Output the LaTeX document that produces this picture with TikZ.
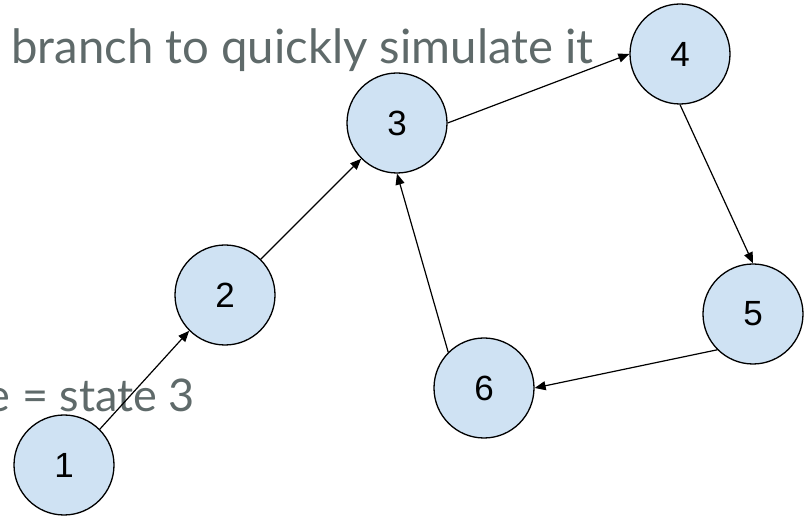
\documentclass[tikz,border=0pt]{standalone}
\usepackage{fontspec}
\setmainfont{Liberation Sans}
\newfontfamily\latofont{Lato}
\usetikzlibrary{arrows.meta}
\definecolor{nodefill}{HTML}{CFE2F3}
\definecolor{notegray}{RGB}{95,106,106}
\tikzset{
  state/.style={circle, draw=black, line width=1.3pt, fill=nodefill,
    minimum size=100pt, inner sep=0pt, font=\fontsize{35}{40}\selectfont},
  link/.style={draw=black, line width=1.2pt,
    -{Triangle[length=11pt,width=9pt]}},
  note/.style={inner sep=0pt, text=notegray, font=\latofont}
}
\begin{document}
\begin{tikzpicture}[x=1pt, y=-1pt]
  \useasboundingbox (0,0) rectangle (812,518);
  \clip (0,0) rectangle (812,518);
  % captions behind the graph
  \node[note, anchor=base west, font=\latofont\fontsize{47.3}{56}\selectfont]
    (top) at (11,64) {branch to quickly simulate it};
  \node[note, anchor=base east, font=\latofont\fontsize{45}{52}\selectfont]
    (low) at (195,412) {e = state 3};
  % states
  \node[state] (n1) at (64,465) {1};
  \node[state] (n2) at (225,295) {2};
  \node[state] (n3) at (397,123) {3};
  \node[state] (n4) at (680,54) {4};
  \node[state] (n5) at (753,314) {5};
  \node[state] (n6) at (484,388) {6};
  % transitions
  \draw[link] (n1.north east) -- (n2.south west);
  \draw[link] (n2.north east) -- (n3.south west);
  \draw[link] (n3.east) -- (n4.west);
  \draw[link] (n4.south) -- (n5.north);
  \draw[link] (n5.south west) -- (n6.east);
  \draw[link] (n6.north west) -- (n3.south);
\end{tikzpicture}
\end{document}
